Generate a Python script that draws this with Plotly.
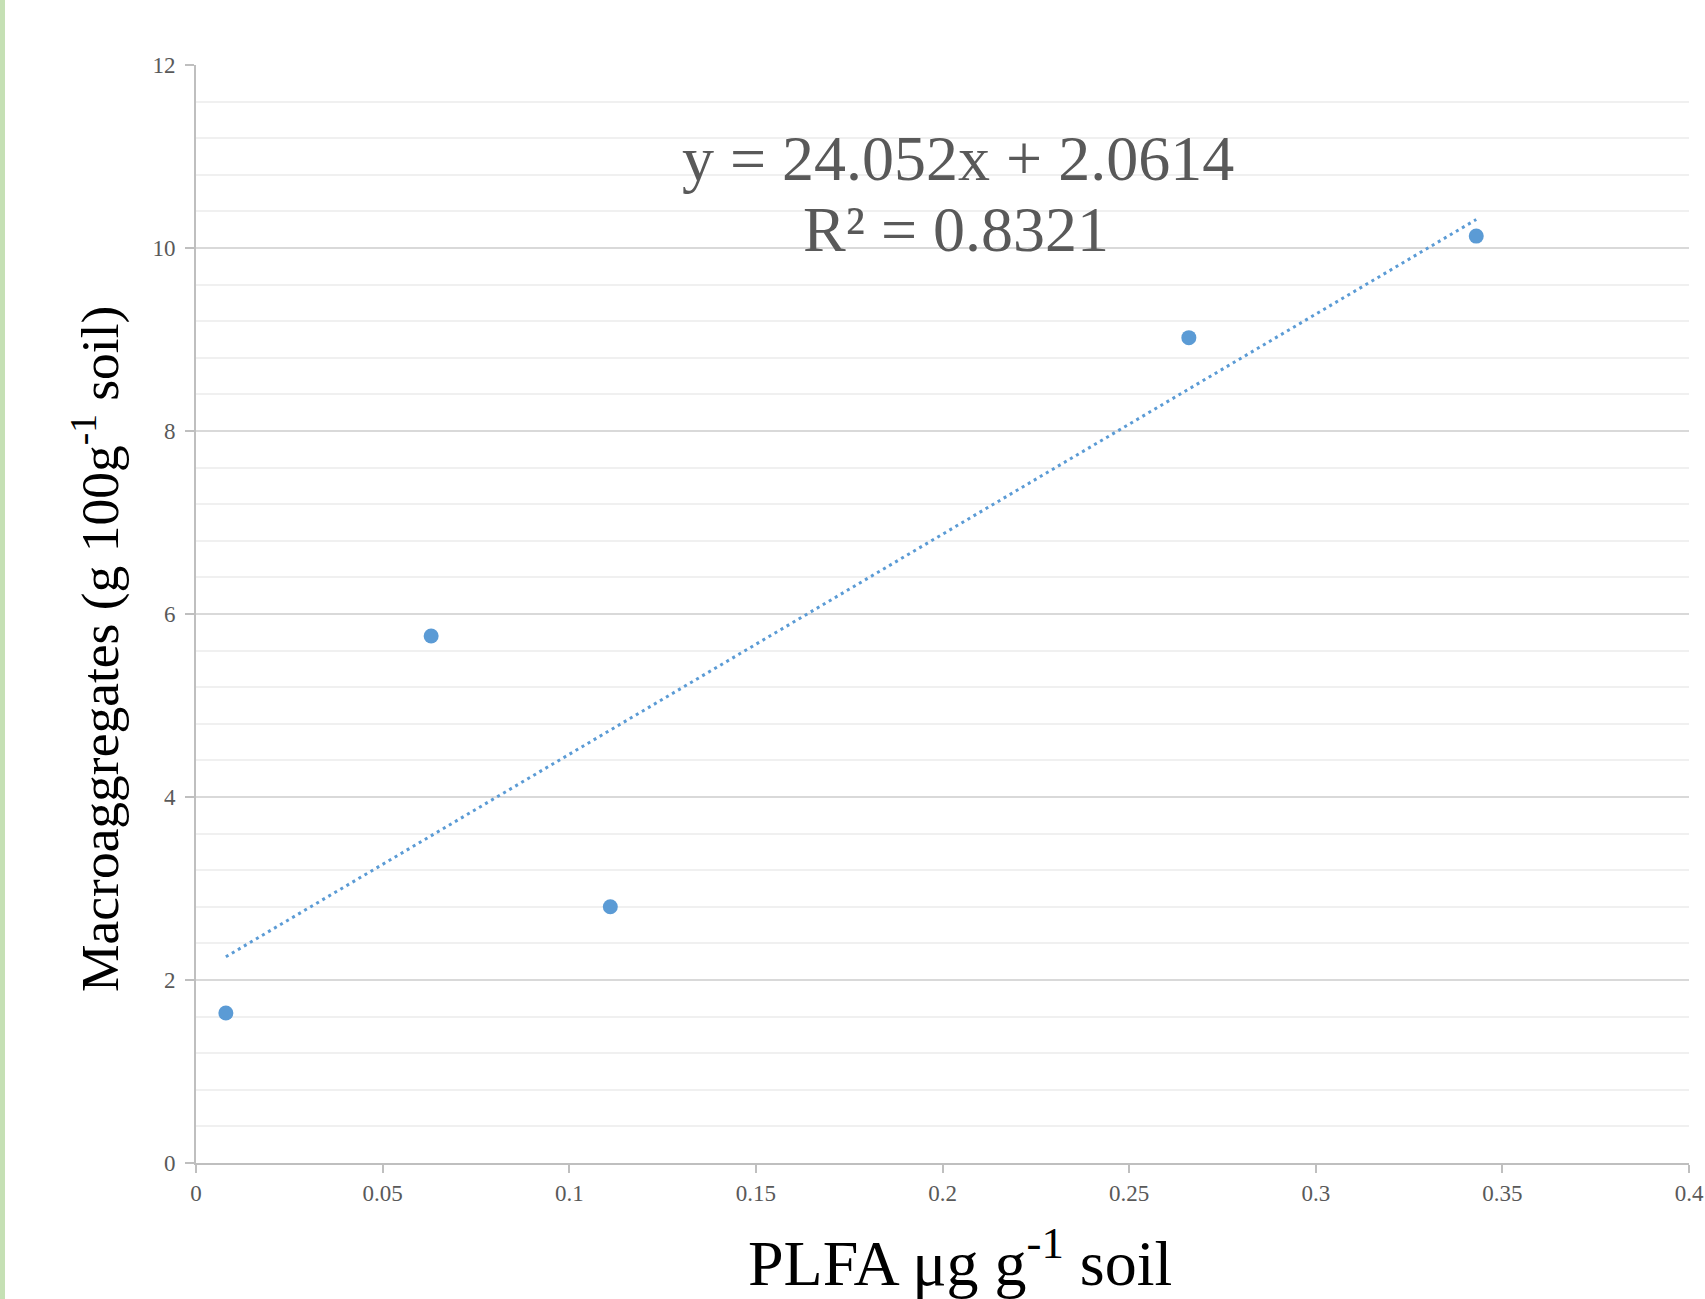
import plotly.graph_objects as go

# ---- data ----
plfa = [0.008, 0.063, 0.111, 0.266, 0.343]          # PLFA µg g-1 soil
macroaggregates = [1.64, 5.76, 2.80, 9.02, 10.13]   # g 100g-1 soil
trend_slope = 24.052
trend_intercept = 2.0614
trend_r2 = 0.8321
x_ticks = [0, 0.05, 0.1, 0.15, 0.2, 0.25, 0.3, 0.35, 0.4]
y_ticks = [0, 2, 4, 6, 8, 10, 12]

BLUE = "#5B9BD5"
GREY_TXT = "#595959"
FONT = "Liberation Serif, Times New Roman, serif"

W, H = 1705, 1299
L, R, T, B = 196, 16, 65, 136
pw, ph = W - L - R, H - T - B


def px_x(p):
    return (p - L) / pw


def px_y(p):
    return (H - B - p) / ph


fig = go.Figure()

# linear trendline across the data range
x_min, x_max = min(plfa), max(plfa)
trend_x = [x_min, x_max]
trend_y = [trend_slope * v + trend_intercept for v in trend_x]
fig.add_trace(go.Scatter(
    x=trend_x, y=trend_y, mode="lines",
    line=dict(color=BLUE, width=3, dash="3px,4px"),
    hoverinfo="skip", showlegend=False,
))

fig.add_trace(go.Scatter(
    x=plfa, y=macroaggregates, mode="markers",
    marker=dict(color=BLUE, size=15, line=dict(width=0)),
    showlegend=False,
))

fig.update_xaxes(
    range=[0, 0.4], tickvals=x_ticks, ticktext=[f"{v:g}" for v in x_ticks],
    showgrid=False, zeroline=False, automargin=False,
    showline=True, linecolor="#BFBFBF", linewidth=2,
    ticks="outside", ticklen=8, tickwidth=2, tickcolor="#BFBFBF",
    tickfont=dict(family=FONT, size=23, color=GREY_TXT),
)
fig.update_yaxes(
    range=[0, 12], tickvals=y_ticks, automargin=False,
    showgrid=True, gridcolor="#D9D9D9", gridwidth=2, zeroline=False,
    showline=True, linecolor="#BFBFBF", linewidth=2,
    ticks="outside", ticklen=9, tickwidth=2, tickcolor="#BFBFBF",
    ticklabelstandoff=5,
    tickfont=dict(family=FONT, size=23, color=GREY_TXT),
    minor=dict(dtick=0.4, showgrid=True, gridcolor="#F0F0F0", gridwidth=1.5, ticks=""),
)

annotations = [
    dict(
        text=f"y = {trend_slope}x + {trend_intercept}",
        xref="paper", yref="paper", x=px_x(958), y=px_y(158),
        xanchor="center", yanchor="middle", showarrow=False,
        font=dict(family=FONT, size=64, color=GREY_TXT),
    ),
    dict(
        text=f"R² = {trend_r2}",
        xref="paper", yref="paper", x=px_x(956), y=px_y(230),
        xanchor="center", yanchor="middle", showarrow=False,
        font=dict(family=FONT, size=64, color=GREY_TXT),
    ),
    dict(
        text="PLFA μg g<sup>-1</sup> soil",
        xref="paper", yref="paper", x=px_x(960), y=px_y(1258),
        xanchor="center", yanchor="middle", showarrow=False,
        font=dict(family=FONT, size=64, color="#000000"),
    ),
    dict(
        text="Macroaggregates (g 100g<sup>-1</sup> soil)",
        xref="paper", yref="paper", x=px_x(96), y=px_y(649),
        xanchor="center", yanchor="middle", showarrow=False, textangle=-90,
        font=dict(family=FONT, size=53.5, color="#000000"),
    ),
]

fig.update_layout(
    width=W, height=H,
    margin=dict(l=L, r=R, t=T, b=B, autoexpand=False),
    paper_bgcolor="white", plot_bgcolor="white",
    annotations=annotations,
    shapes=[dict(
        type="rect", xref="paper", yref="paper",
        x0=px_x(0), x1=px_x(5), y0=-B / ph, y1=1 + T / ph,
        fillcolor="#C5E0B4", line=dict(width=0), layer="below",
    )],
)

fig.write_html(
    "out.html",
    config={"displayModeBar": False},
    post_script="document.body.style.margin='0';document.body.style.overflow='hidden';",
)
